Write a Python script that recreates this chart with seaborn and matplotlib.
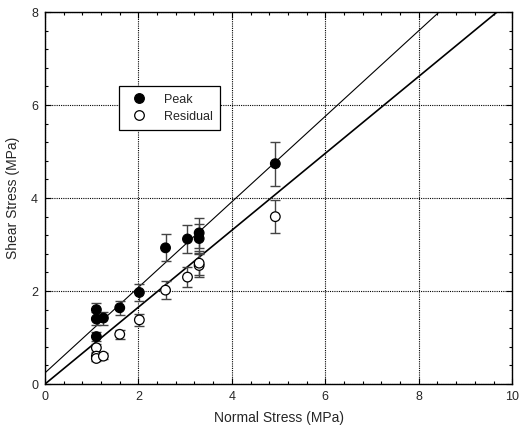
import matplotlib
matplotlib.use("Agg")
import matplotlib.pyplot as plt
import seaborn as sns
import pandas as pd
from matplotlib.ticker import MultipleLocator

normal_stress = [1.1, 1.1, 1.1, 1.25, 1.6, 2.02, 2.58, 3.05, 3.3, 3.3, 4.93]
peak_shear = [1.6, 1.4, 1.02, 1.42, 1.64, 1.97, 2.93, 3.12, 3.13, 3.25, 4.74]
peak_err = [0.15, 0.14, 0.1, 0.14, 0.15, 0.18, 0.29, 0.31, 0.31, 0.33, 0.47]
residual_shear = [0.78, 0.6, 0.55, 0.6, 1.07, 1.38, 2.02, 2.3, 2.55, 2.6, 3.6]
residual_err = [0.08, 0.06, 0.05, 0.06, 0.1, 0.13, 0.2, 0.22, 0.25, 0.26, 0.36]
peak_fit = (0.24, 0.92)       # intercept, slope
residual_fit = (0.0, 0.827)
x_ticks = [0, 2, 4, 6, 8, 10]
y_ticks = [0, 2, 4, 6, 8]

sns.set_style("ticks")
plt.rcParams['font.family'] = ['Liberation Sans', 'DejaVu Sans']

df = pd.DataFrame({
    "Normal": normal_stress * 2,
    "Shear": peak_shear + residual_shear,
    "Err": peak_err + residual_err,
    "Type": ["Peak"] * len(peak_shear) + ["Residual"] * len(residual_shear),
})

fig = plt.figure(figsize=(5.2, 4.32), dpi=100)
ax = fig.add_axes([0.0865, 0.111, 0.8985, 0.861])

for b, m, lw in [(peak_fit[0], peak_fit[1], 0.8), (residual_fit[0], residual_fit[1], 1.2)]:
    ax.axline((0, b), slope=m, color="black", lw=lw, zorder=2)

ax.errorbar(df["Normal"], df["Shear"], yerr=df["Err"], fmt="none",
            ecolor="#444444", elinewidth=1.0, capsize=3.5, capthick=1.0, zorder=3)

sns.scatterplot(data=df, x="Normal", y="Shear", hue="Type", style="Type",
                palette={"Peak": "black", "Residual": "white"},
                markers={"Peak": "o", "Residual": "o"},
                edgecolor="black", linewidth=0.9, s=48, ax=ax, zorder=4)

ax.set_xlim(0, 10)
ax.set_ylim(0, 8)
ax.set_xticks(x_ticks)
ax.set_yticks(y_ticks)
ax.xaxis.set_minor_locator(MultipleLocator(0.4))
ax.yaxis.set_minor_locator(MultipleLocator(0.4))
ax.tick_params(which="both", direction="in", top=True, right=True, labelsize=9, color="black")
ax.tick_params(which="major", length=4, width=0.8, pad=5)
ax.tick_params(which="minor", length=2.5, width=0.8)
ax.grid(True, which="major", color="black", linestyle=(0, (1, 1)), linewidth=0.8)
for s in ax.spines.values():
    s.set_color("black")
    s.set_linewidth(1.0)

ax.set_xlabel("Normal Stress (MPa)", fontsize=10, labelpad=6)
ax.set_ylabel("Shear Stress (MPa)", fontsize=10, labelpad=8)

handles, labels = ax.get_legend_handles_labels()
for h in handles:
    try:
        h.set_edgecolor("black")
    except Exception:
        pass
leg = ax.legend(handles, labels, loc="upper left", bbox_to_anchor=(0.158, 0.801),
                frameon=True, fancybox=False, edgecolor="black", framealpha=1,
                fontsize=9, handletextpad=1.0, borderpad=0.6, labelspacing=0.4,
                borderaxespad=0)
leg.get_frame().set_linewidth(0.9)

fig.savefig("out.png", dpi=100)
